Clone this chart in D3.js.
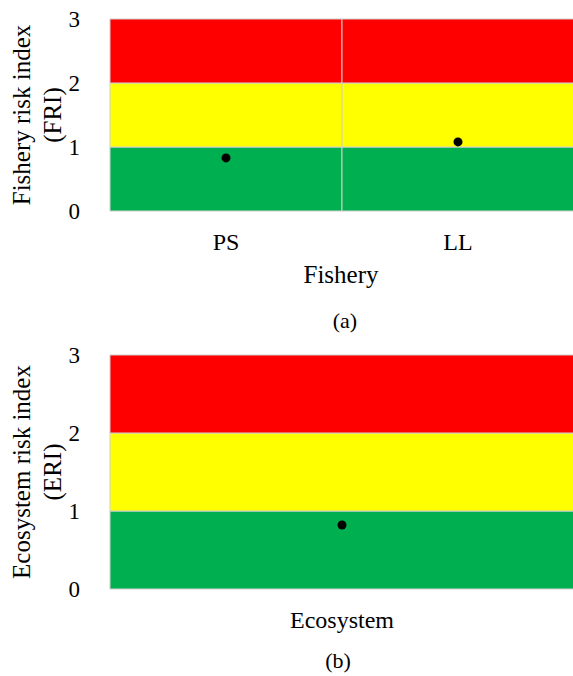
<!DOCTYPE html>
<html>
<head>
<meta charset="utf-8">
<script src="https://cdn.jsdelivr.net/npm/d3@7"></script>
<style>
  body { margin: 0; background: #fff; }
</style>
</head>
<body>
<div id="chart"></div>
<script>
// values
var fisheries = ["PS", "LL"];
var friValues = [0.83, 1.08];
var ecosystems = ["Ecosystem"];
var eriValues = [0.82];
var yTicks = [0, 1, 2, 3];
var bandEdges = [0, 1, 2, 3];          // green 0-1, yellow 1-2, red 2-3
var bandColours = ["#00b050", "#ffff00", "#ff0000"];

var FONT = "'Liberation Serif', 'Times New Roman', serif";
var W = 573, H = 676;
var svg = d3.select("#chart").append("svg")
    .attr("width", W)
    .attr("height", H);

function panel( opts )
{
    var g = svg.append("g");
    var x = d3.scaleBand().domain(opts.cats).range([110, 574]);
    var y = d3.scaleLinear().domain([0, 3]).range([opts.bottom, opts.top]);

    // risk bands, one rect per category per band
    var bands = d3.range(bandEdges.length - 1).map(function( i ) {
        return { lo: bandEdges[i], hi: bandEdges[i + 1], col: bandColours[i] };
    });
    opts.cats.forEach(function( c ) {
        g.selectAll(null)
            .data(bands)
            .enter().append("rect")
            .attr("x", x(c))
            .attr("width", x.bandwidth())
            .attr("y", function( d ) { return y(d.hi); })
            .attr("height", function( d ) { return y(d.lo) - y(d.hi); })
            .attr("fill", function( d ) { return d.col; })
            .attr("stroke", "#d0d0d0")
            .attr("stroke-width", 1);
    });

    // points
    g.selectAll("circle")
        .data(opts.values)
        .enter().append("circle")
        .attr("cx", function( d, i ) { return x(opts.cats[i]) + x.bandwidth() / 2; })
        .attr("cy", function( d ) { return y(d); })
        .attr("r", 4.5)
        .attr("fill", "#000");

    // y axis
    var ya = g.append("g")
        .attr("transform", "translate(110,0)")
        .call(d3.axisLeft(y).tickValues(yTicks).tickFormat(d3.format("d")).tickSize(0).tickPadding(30));
    ya.select(".domain").remove();
    ya.selectAll("text")
        .attr("dy", "0.34em")
        .style("font-family", FONT)
        .style("font-size", "23px")
        .style("fill", "#000");

    // x axis
    var xa = g.append("g")
        .attr("transform", "translate(0," + opts.bottom + ")")
        .call(d3.axisBottom(x).tickSize(0).tickPadding(22));
    xa.select(".domain").remove();
    xa.selectAll("text")
        .style("font-family", FONT)
        .style("font-size", "24px")
        .style("fill", "#000");

    // y title, two lines
    var cy = (opts.top + opts.bottom) / 2;
    opts.yTitle.forEach(function( t, i ) {
        g.append("text")
            .attr("transform", "translate(" + (30 + i * 31) + "," + cy + ") rotate(-90)")
            .attr("text-anchor", "middle")
            .style("font-family", FONT)
            .style("font-size", "25px")
            .text(t);
    });

    if( opts.xTitle )
    {
        g.append("text")
            .attr("x", 341)
            .attr("y", opts.bottom + 72)
            .attr("text-anchor", "middle")
            .style("font-family", FONT)
            .style("font-size", "25px")
            .text(opts.xTitle);
    }

    g.append("text")
        .attr("x", opts.tagX)
        .attr("y", opts.tagY)
        .attr("text-anchor", "middle")
        .style("font-family", FONT)
        .style("font-size", "22px")
        .text(opts.tag);
}

panel({ cats: fisheries, values: friValues, top: 19, bottom: 211,
        yTitle: ["Fishery risk index", "(FRI)"], xTitle: "Fishery",
        tag: "(a)", tagX: 345, tagY: 328 });

panel({ cats: ecosystems, values: eriValues, top: 355, bottom: 589,
        yTitle: ["Ecosystem risk index", "(ERI)"], xTitle: null,
        tag: "(b)", tagX: 338, tagY: 668 });
</script>
</body>
</html>
